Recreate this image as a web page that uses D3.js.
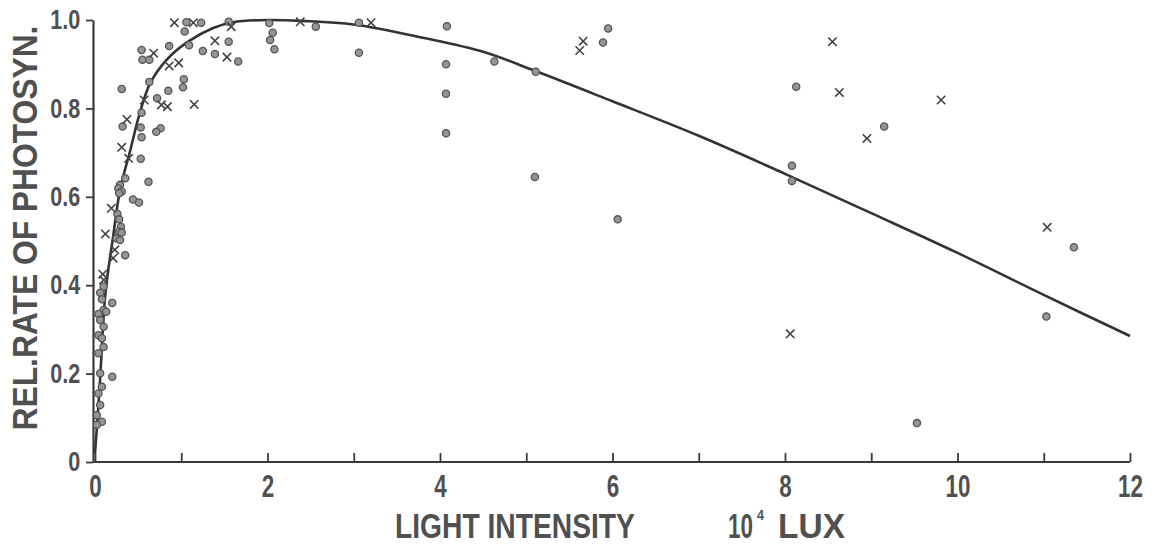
<!DOCTYPE html>
<html>
<head>
<meta charset="utf-8">
<script src="https://cdn.jsdelivr.net/npm/d3@7"></script>
<style>
  html, body { margin: 0; padding: 0; background: #ffffff; }
  svg { display: block; }
  text { font-family: "Liberation Sans", "DejaVu Sans", sans-serif; font-weight: bold; fill: #505050; }
</style>
</head>
<body>
<svg id="chart" width="1160" height="546"></svg>
<script>
// ---- data ----
const xTickValues = [0,1,2,3,4,5,6,7,8,9,10,11,12];
const yTickValues = [0,0.2,0.4,0.6,0.8,1.0];

const curveX = [0, 0.03, 0.06, 0.12, 0.21, 0.29, 0.41, 0.52, 0.64, 0.83, 1.07, 1.37, 1.6, 2.0, 2.4, 3.0, 3.8, 4.5, 5.1, 6.0, 7.0, 8.0, 9.0, 10.0, 11.0, 12.0];
const curveY = [0.02, 0.1, 0.19, 0.38, 0.51, 0.615, 0.706, 0.79, 0.857, 0.91, 0.95, 0.982, 0.995, 1.0, 0.998, 0.99, 0.96, 0.928, 0.885, 0.816, 0.738, 0.652, 0.563, 0.473, 0.378, 0.285];

const circleX = [1.06,1.23,1.04,1.55,2.02,2.06,2.03,2.08,0.86,1.09,1.55,1.25,1.39,1.66,0.54,0.55,0.63,0.63,1.03,1.02,0.85,0.31,0.72,0.54,0.32,0.53,0.76,0.71,0.54,0.53,0.35,0.62,0.29,0.27,0.31,0.28,0.44,0.51,0.26,0.28,0.30,0.28,0.31,0.25,0.29,0.35,0.10,0.06,0.20,0.08,0.10,0.04,0.13,0.06,0.10,0.04,0.08,0.10,0.04,0.20,0.06,0.08,0.04,0.06,0.02,0.08,0.02,
  2.56,3.06,3.06,4.08,4.07,4.07,4.07,4.63,5.11,5.10,5.95,5.89,6.06,8.13,9.15,8.08,8.08,9.53,11.35,11.03];
const circleY = [0.995,0.994,0.974,0.996,0.993,0.971,0.955,0.934,0.941,0.943,0.951,0.930,0.923,0.906,0.932,0.910,0.910,0.860,0.866,0.848,0.840,0.844,0.823,0.790,0.759,0.757,0.755,0.747,0.735,0.686,0.642,0.634,0.627,0.619,0.612,0.608,0.594,0.587,0.561,0.549,0.532,0.521,0.519,0.506,0.502,0.468,0.397,0.383,0.360,0.368,0.344,0.335,0.340,0.321,0.306,0.287,0.280,0.260,0.246,0.193,0.201,0.170,0.155,0.129,0.106,0.091,0.084,
  0.985,0.994,0.926,0.986,0.900,0.833,0.744,0.906,0.883,0.645,0.981,0.949,0.549,0.849,0.759,0.670,0.636,0.088,0.486,0.329];

const crossX = [0.92,1.14,1.58,1.39,1.53,0.68,0.86,0.97,0.57,0.77,0.84,1.15,0.37,0.31,0.39,0.19,0.12,0.23,0.21,0.09,0.10,2.38,3.20,5.66,5.62,8.55,8.63,9.81,8.95,8.06,11.04];
const crossY = [0.994,0.994,0.985,0.953,0.916,0.925,0.896,0.903,0.819,0.808,0.804,0.809,0.775,0.712,0.687,0.574,0.516,0.480,0.461,0.425,0.412,0.996,0.994,0.952,0.931,0.951,0.836,0.819,0.732,0.290,0.531];

const xTitle = "LIGHT INTENSITY";
const xUnit = "10";
const xUnitSup = "4";
const xUnitTail = "LUX";
const yTitle = "REL.RATE OF PHOTOSYN.";

// ---- drawing ----
const svg = d3.select("#chart");
const x = d3.scaleLinear().domain([0, 12]).range([95, 1130]);
const y = d3.scaleLinear().domain([0, 1]).range([462, 20]);
const ink = "#3a3a3a";

// axes
const xAxis = d3.axisBottom(x).tickValues(xTickValues)
  .tickFormat(d => d % 2 === 0 ? String(d) : "")
  .tickSizeInner(-9).tickSizeOuter(0).tickPadding(12);
const gx = svg.append("g").attr("transform", `translate(0,${y(0)})`).call(xAxis);
gx.select(".domain").attr("stroke", ink).attr("stroke-width", 2.2).attr("d", `M${x(0)-2},0H${x(12)}`);
gx.selectAll(".tick line").attr("stroke", ink).attr("stroke-width", 1.8);
gx.selectAll(".tick text").style("font-size", "32px").attr("fill", "#505050")
  .attr("transform", "scale(0.7,1)");

const yAxis = d3.axisLeft(y).tickValues(yTickValues)
  .tickFormat(d => d === 0 ? "0" : d3.format(".1f")(d))
  .tickSizeInner(7).tickSizeOuter(0).tickPadding(5);
const gy = svg.append("g").attr("transform", `translate(${x(0)-2},0)`).call(yAxis);
gy.select(".domain").attr("stroke", ink).attr("stroke-width", 2.2);
gy.selectAll(".tick line").attr("stroke", ink).attr("stroke-width", 1.8);
gy.selectAll(".tick text").style("font-size", "27px").attr("fill", "#505050")
  .attr("x", -16).attr("transform", "scale(0.8,1)");

// titles: fitted by horizontal scaling so the glyphs look condensed like the original
function fitted(parentTransform, txt, size, width, anchor) {
  const g = svg.append("g");
  const t = g.append("text").style("font-size", size + "px").attr("text-anchor", anchor || "start").text(txt);
  const len = t.node().getComputedTextLength();
  g.attr("transform", `${parentTransform} scale(${width / len},1)`);
  return t;
}
fitted("translate(37,228) rotate(-90)", yTitle, 35, 405, "middle");
fitted("translate(395,538)", xTitle, 35, 240);
const unit = fitted("translate(728,538)", xUnit, 35, 25);
fitted("translate(757,520)", xUnitSup, 15, 7);
fitted("translate(778,538)", xUnitTail, 35, 67);

// fitted curve
const curvePts = curveX.map((v, i) => [v, curveY[i]]);
svg.append("path")
  .datum(curvePts)
  .attr("fill", "none")
  .attr("stroke", "#333")
  .attr("stroke-width", 2.6)
  .attr("d", d3.line().x(d => x(d[0])).y(d => y(d[1])).curve(d3.curveCatmullRom.alpha(0.5)));

// circles
const circlePts = circleX.map((v, i) => [v, circleY[i]]);
svg.append("g").selectAll("circle").data(circlePts).join("circle")
  .attr("cx", d => x(d[0])).attr("cy", d => y(d[1])).attr("r", 3.6)
  .attr("fill", "#959595").attr("stroke", "#555").attr("stroke-width", 1.3);

// crosses
const crossPts = crossX.map((v, i) => [v, crossY[i]]);
const s = 4.2;
svg.append("g").selectAll("path").data(crossPts).join("path")
  .attr("d", d => { const cx = x(d[0]), cy = y(d[1]); return `M${cx-s},${cy-s}L${cx+s},${cy+s}M${cx+s},${cy-s}L${cx-s},${cy+s}`; })
  .attr("stroke", "#444").attr("stroke-width", 1.6).attr("fill", "none");
</script>
</body>
</html>
